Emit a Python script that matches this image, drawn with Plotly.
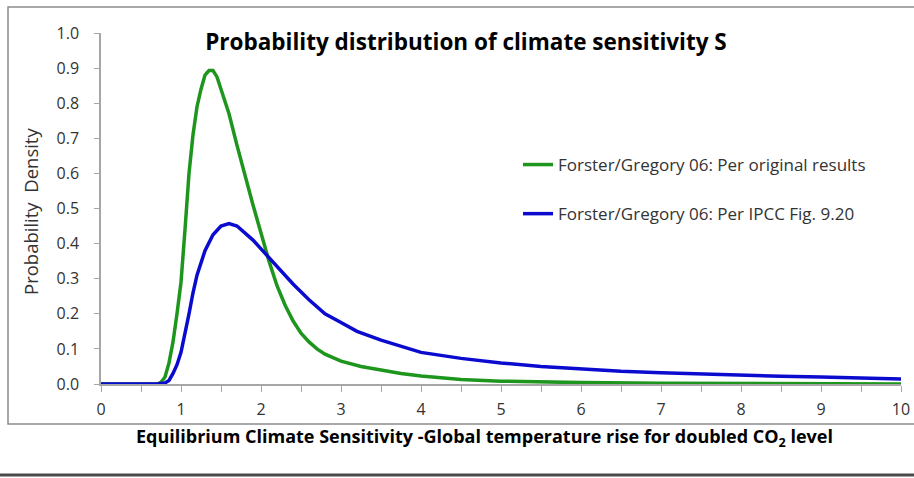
import plotly.graph_objects as go

# Data
green_x = [0, 0.5, 0.7, 0.75, 0.8, 0.85, 0.9, 0.95, 1.0, 1.05, 1.1, 1.15, 1.2, 1.25, 1.3, 1.35, 1.4,
           1.45, 1.5, 1.6, 1.7, 1.8, 1.9, 2.0, 2.1, 2.2, 2.3, 2.4, 2.5, 2.6, 2.7, 2.8, 3.0, 3.25,
           3.5, 3.75, 4.0, 4.5, 5.0, 5.5, 6.0, 7.0, 8.0, 9.0, 10.0]
green_y = [0, 0, 0.0, 0.005, 0.02, 0.06, 0.12, 0.2, 0.29, 0.44, 0.6, 0.71, 0.79, 0.84, 0.88, 0.893, 0.893,
           0.875, 0.84, 0.77, 0.68, 0.59, 0.51, 0.43, 0.35, 0.28, 0.225, 0.18, 0.145, 0.12, 0.1, 0.085, 0.065, 0.05,
           0.04, 0.03, 0.023, 0.013, 0.008, 0.005, 0.004, 0.002, 0.001, 0.0005, 0.0]

blue_x = [0, 0.5, 0.7, 0.8, 0.85, 0.9, 0.95, 1.0, 1.05, 1.1, 1.15, 1.2, 1.3, 1.4, 1.5, 1.6, 1.7, 1.8,
          1.9, 2.0, 2.1, 2.2, 2.4, 2.6, 2.8, 3.0, 3.2, 3.5, 3.8, 4.0, 4.5, 5.0, 5.5, 6.0, 6.5, 7.0,
          7.5, 8.0, 8.5, 9.0, 9.5, 10.0]
blue_y = [0, 0, 0, 0.003, 0.01, 0.03, 0.055, 0.09, 0.14, 0.2, 0.26, 0.31, 0.38, 0.425, 0.45, 0.457, 0.45, 0.43,
          0.41, 0.385, 0.36, 0.335, 0.285, 0.24, 0.2, 0.175, 0.15, 0.125, 0.105, 0.09, 0.073, 0.06, 0.05, 0.042, 0.036, 0.032,
          0.028, 0.025, 0.022, 0.02, 0.017, 0.014]

green_name = "Forster/Gregory 06: Per original results"
blue_name = "Forster/Gregory 06: Per IPCC Fig. 9.20"
title_text = "Probability distribution of climate sensitivity S"
x_title = "Equilibrium Climate Sensitivity -Global temperature rise for doubled CO<sub>2</sub> level"
y_title = "Probability  Density"

FONT = "Open Sans"
TXT = "#333333"
AX = "#a6a6a6"

W, H = 914, 478
L, R, T, B = 101, 13, 33, 94
PW, PH = W - L - R, H - T - B  # 800 x 351


def px(sx):  # screen x -> paper x
    return (sx - L) / PW


def py(sy):  # screen y -> paper y
    return (H - B - sy) / PH


fig = go.Figure()
fig.add_trace(go.Scatter(x=green_x, y=green_y, mode="lines", name=green_name,
                         line=dict(color="#1e961e", width=3.5), legendgroup="g"))
fig.add_trace(go.Scatter(x=blue_x, y=blue_y, mode="lines", name=blue_name,
                         line=dict(color="#0b0bd0", width=3.5), legendgroup="b"))

fig.update_layout(
    width=W, height=H,
    margin=dict(l=L, r=R, t=T, b=B),
    paper_bgcolor="white", plot_bgcolor="white",
    font=dict(family=FONT, color=TXT, size=14),
    title=dict(text="<b>" + title_text + "</b>", x=466 / W,
               xanchor="center", y=1 - 42 / H, yanchor="middle",
               font=dict(family=FONT, size=22.5, color="#000000")),
    showlegend=True,
    legend=dict(x=px(518), y=py(147), xanchor="left", yanchor="top",
                bgcolor="rgba(0,0,0,0)", tracegroupgap=24,
                font=dict(family=FONT, size=17, color=TXT)),
    xaxis=dict(range=[0, 10], dtick=1, tick0=0, showgrid=False, zeroline=False,
               showline=True, linecolor=AX, linewidth=1.5, ticks="outside", ticklen=6,
               tickcolor=AX, tickwidth=1, layer="below traces", automargin=False,
               minor=dict(dtick=0.5, ticks="outside", ticklen=6, tickcolor=AX, showgrid=False),
               tickfont=dict(family=FONT, size=16, color=TXT), ticklabelstandoff=4),
    yaxis=dict(range=[0, 1.0], dtick=0.1, tick0=0, tickformat=".1f", showgrid=False, zeroline=False,
               showline=True, linecolor=AX, linewidth=1.5, ticks="outside", ticklen=5,
               tickcolor=AX, layer="below traces", automargin=False,
               tickfont=dict(family=FONT, size=16, color=TXT), ticklabelstandoff=12),
    annotations=[
        dict(text="<b>" + x_title + "</b>", xref="paper", yref="paper",
             x=px(484), y=py(437), xanchor="center", yanchor="middle", showarrow=False,
             font=dict(family=FONT, size=18, color="#000000")),
        dict(text=y_title, xref="paper", yref="paper", textangle=-90,
             x=px(30), y=py(212), xanchor="center", yanchor="middle", showarrow=False,
             font=dict(family=FONT, size=18.5, color=TXT)),
    ],
    shapes=[
        dict(type="rect", xref="paper", yref="paper",
             x0=px(8), x1=px(918), y0=py(424), y1=py(7),
             line=dict(color="#8c8c8c", width=1.5), fillcolor="rgba(0,0,0,0)", layer="below"),
        dict(type="line", xref="paper", yref="paper",
             x0=px(0), x1=px(914), y0=py(475), y1=py(475),
             line=dict(color="#4a4a4a", width=3)),
    ],
)

fig.write_html("out.html", config={"displayModeBar": False},
               post_script="document.body.style.margin='0';document.body.style.overflow='hidden';")
